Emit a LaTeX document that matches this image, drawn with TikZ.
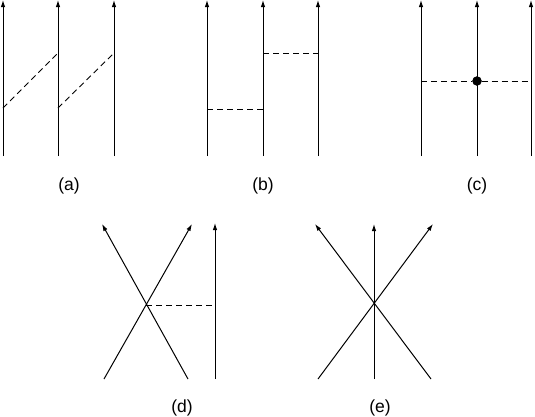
\documentclass[tikz,border=0pt]{standalone}
\usepackage{fontspec}
\setmainfont{Liberation Sans}
\usetikzlibrary{arrows.meta,positioning}

\begin{document}
\begin{tikzpicture}[x=1pt, y=-1pt, >={Latex[length=7pt,width=4.5pt]},
  wl/.style={->, line width=1pt},
  exch/.style={dash pattern=on 6pt off 4pt, line width=0.9pt},
  vtx/.style={draw, circle, fill, inner sep=0pt, minimum size=9pt},
  lbl/.style={font=\fontsize{17.5}{20}\selectfont}]
\useasboundingbox (0,0) rectangle (535,416);

% Diagram (a)
\coordinate (a1s) at (3,156);   \coordinate (a1e) at (3,0);
\coordinate (a2s) at (58,156);  \coordinate (a2e) at (58,0);
\coordinate (a3s) at (114,156); \coordinate (a3e) at (114,0);
\coordinate (a1p) at (3,108);
\coordinate (a2p) at (58,53);
\coordinate (a2q) at (58,108);
\coordinate (a3p) at (114,53);
\draw[wl] (a1s) -- (a1e);
\draw[wl] (a2s) -- (a2e);
\draw[wl] (a3s) -- (a3e);
\draw[exch] (a1p) -- (a2p);
\draw[exch] (a2q) -- (a3p);
\node[lbl] (alab) at (69,186) {(a)};

% Diagram (b)
\coordinate (b1s) at (207,156); \coordinate (b1e) at (207,0);
\coordinate (b2s) at (263,156); \coordinate (b2e) at (263,0);
\coordinate (b3s) at (318,156); \coordinate (b3e) at (318,0);
\coordinate (b1p) at (207,109);
\coordinate (b2p) at (263,109);
\coordinate (b2q) at (263,53);
\coordinate (b3p) at (318,53);
\draw[wl] (b1s) -- (b1e);
\draw[wl] (b2s) -- (b2e);
\draw[wl] (b3s) -- (b3e);
\draw[exch] (b1p) -- (b2p);
\draw[exch] (b2q) -- (b3p);
\node[lbl] (blab) at (263,186) {(b)};

% Diagram (c)
\coordinate (c1s) at (421,156); \coordinate (c1e) at (421,0);
\coordinate (c2s) at (477,156); \coordinate (c2e) at (477,0);
\coordinate (c3s) at (531,156); \coordinate (c3e) at (531,0);
\coordinate (c1p) at (421,81);
\coordinate (c3p) at (531,81);
\draw[wl] (c1s) -- (c1e);
\draw[wl] (c2s) -- (c2e);
\draw[wl] (c3s) -- (c3e);
\node[vtx] (cdot) at (477,81) {};
\draw[exch] (c1p) -- (cdot) -- (c3p);
\node[lbl] (clab) at (477,186) {(c)};

% Diagram (d)
\coordinate (d1s) at (104,379); \coordinate (d1e) at (192,224);
\coordinate (d2s) at (188,379); \coordinate (d2e) at (102,224);
\coordinate (d3s) at (215,379); \coordinate (d3e) at (215,223);
\coordinate (dx) at (146,305);
\coordinate (d3p) at (215,305);
\draw[wl] (d1s) -- (d1e);
\draw[wl] (d2s) -- (d2e);
\draw[wl] (d3s) -- (d3e);
\draw[exch] (dx) -- (d3p);
\node[lbl] (dlab) at (182,408) {(d)};

% Diagram (e)
\coordinate (e1s) at (318,379); \coordinate (e1e) at (433,224);
\coordinate (e2s) at (374,379); \coordinate (e2e) at (374,224);
\coordinate (e3s) at (431,379); \coordinate (e3e) at (315,224);
\draw[wl] (e1s) -- (e1e);
\draw[wl] (e2s) -- (e2e);
\draw[wl] (e3s) -- (e3e);
\node[lbl] (elab) at (380,408) {(e)};

\end{tikzpicture}
\end{document}
